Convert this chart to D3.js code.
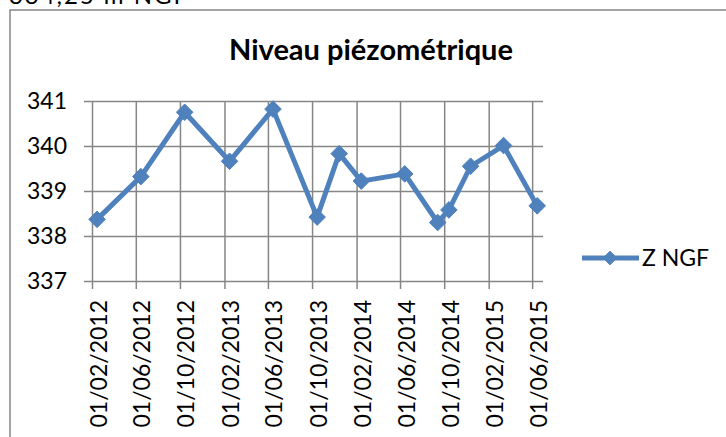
<!DOCTYPE html>
<html><head><meta charset="utf-8">
<script src="https://cdn.jsdelivr.net/npm/d3@7"></script>
<style>
html,body{margin:0;padding:0;background:#fff;}
svg{display:block;font-family:Lato,"Open Sans",sans-serif;}
</style></head>
<body>
<svg id="chart" width="726" height="437"></svg>
<script>
const title = "Niveau piézométrique";
const seriesName = "Z NGF";
const headerText = "334,25 m NGF";
const dates = ["2012-02-15","2012-06-15","2012-10-14","2013-02-15","2013-06-15","2013-10-15","2013-12-15","2014-02-14","2014-06-14","2014-09-13","2014-10-14","2014-12-13","2015-03-14","2015-06-15"];
const values = [338.37,339.32,340.75,339.66,340.82,338.42,339.83,339.22,339.38,338.30,338.58,339.55,340.01,338.67];
const xTicks = ["2012-02-01","2012-06-01","2012-10-01","2013-02-01","2013-06-01","2013-10-01","2014-02-01","2014-06-01","2014-10-01","2015-02-01","2015-06-01"];
const xDomain = ["2012-02-01","2015-07-01"];
const yTicks = [337,338,339,340,341];

const parse = d3.utcParse("%Y-%m-%d");
const fmt = d3.utcFormat("%d/%m/%Y");
const data = dates.map((d,i)=>({date:parse(d), value:values[i]}));

const svg = d3.select("#chart");
const grid = "#868686";
const blue = "#4F81BD";

// outer frame (chart area border, partially outside the view)
svg.append("rect").attr("x",10).attr("y",10).attr("width",740).attr("height",460)
  .attr("fill","none").attr("stroke",grid).attr("stroke-width",1.5);

// header text above the chart (cut by the top edge, as in the reference)
svg.append("text").attr("x",9).attr("y",4).attr("font-size",24)
  .attr("textLength",178).attr("lengthAdjust","spacing")
  .attr("fill","#000").text(headerText);

const x = d3.scaleUtc().domain(xDomain.map(parse)).range([92,543]);
const y = d3.scaleLinear().domain([337,341]).range([281,101]);

// horizontal gridlines + y axis
const yAxis = d3.axisLeft(y).tickValues(yTicks).tickSize(8).tickPadding(17).tickFormat(d3.format("d"));
const gy = svg.append("g").attr("transform","translate(92,0)").call(yAxis);
gy.select(".domain").remove();
gy.selectAll(".tick line").attr("stroke",grid).attr("stroke-width",1.5);
gy.selectAll(".tick").append("line").attr("x1",0).attr("x2",451).attr("stroke",grid).attr("stroke-width",1.5);
gy.selectAll(".tick text").attr("font-size",23).attr("fill","#000").attr("font-family","Lato");

// vertical gridlines + x axis
const xAxis = d3.axisBottom(x).tickValues(xTicks.map(parse)).tickSize(8).tickFormat(fmt);
const gx = svg.append("g").attr("transform","translate(0,281)").call(xAxis);
gx.select(".domain").remove();
gx.selectAll(".tick line").attr("stroke",grid).attr("stroke-width",1.5);
gx.selectAll(".tick").append("line").attr("y1",0).attr("y2",-180).attr("stroke",grid).attr("stroke-width",1.5);
gx.selectAll(".tick text")
  .attr("font-size",23).attr("fill","#000").attr("font-family","Lato")
  .attr("text-anchor","end").attr("y",0).attr("dy",0)
  .attr("transform","translate(14,19) rotate(-90)");

// line
const line = d3.line().x(d=>x(d.date)).y(d=>y(d.value));
svg.append("path").datum(data).attr("d",line).attr("fill","none")
  .attr("stroke",blue).attr("stroke-width",5).attr("stroke-linejoin","round");

// markers
const diamond = d3.symbol().type(d3.symbolDiamond2).size(175);
svg.selectAll(".mk").data(data).join("path").attr("class","mk")
  .attr("d",diamond).attr("transform",d=>`translate(${x(d.date)},${y(d.value)})`)
  .attr("fill",blue).attr("stroke",blue).attr("stroke-width",1);

// title
svg.append("text").attr("x",371).attr("y",60).attr("text-anchor","middle")
  .attr("font-size",29).attr("font-weight","bold").attr("fill","#000").text(title);

// legend
const lg = svg.append("g");
lg.append("line").attr("x1",582).attr("x2",639).attr("y1",258).attr("y2",258)
  .attr("stroke",blue).attr("stroke-width",5);
lg.append("path").attr("d",d3.symbol().type(d3.symbolDiamond2).size(120)())
  .attr("transform","translate(610,258)").attr("fill",blue).attr("stroke",blue);
lg.append("text").attr("x",642).attr("y",266).attr("font-size",23).attr("fill","#000").text(seriesName);
</script>
</body></html>
